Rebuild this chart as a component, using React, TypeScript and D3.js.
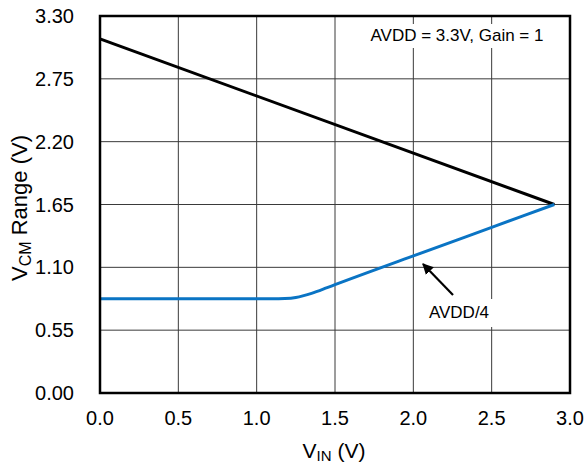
import React from "react";
import * as d3 from "d3";

const xTicks = [0, 0.5, 1.0, 1.5, 2.0, 2.5, 3.0];
const yTicks = [0, 0.55, 1.1, 1.65, 2.2, 2.75, 3.3];
const upperVin = [0, 2.9];
const upperVcm = [3.1, 1.65];
const lowerVin = [0, 0.5, 1.0, 1.1, 1.18, 1.25, 1.3, 1.35, 1.45, 1.5, 2.0, 2.5, 2.9];
const lowerVcm = [0.825, 0.825, 0.825, 0.825, 0.827, 0.836, 0.852, 0.872, 0.922, 0.948, 1.2, 1.45, 1.65];

const W = 586, H = 466;
const L = 100, R = 570, T = 16, B = 393;

export default function App() {
  const x = d3.scaleLinear().domain([0, 3]).range([L, R]);
  const y = d3.scaleLinear().domain([0, 3.3]).range([B, T]);
  const line = d3.line<[number, number]>().x(d => x(d[0])).y(d => y(d[1]));
  const smooth = d3.line<[number, number]>().x(d => x(d[0])).y(d => y(d[1])).curve(d3.curveMonotoneX);
  const up = upperVin.map((v, i) => [v, upperVcm[i]] as [number, number]);
  const low = lowerVin.map((v, i) => [v, lowerVcm[i]] as [number, number]);
  const font = "'Liberation Sans', Arial, sans-serif";
  return (
    <svg width={W} height={H} style={{ position: "absolute", left: 0, top: 0, background: "#fff" }} fontFamily={font}>
      <rect x={0} y={0} width={W} height={H} fill="#fff" />
      {xTicks.slice(1, -1).map(t => (
        <line key={"gx" + t} x1={x(t)} x2={x(t)} y1={T} y2={B} stroke="#3a3a3a" strokeWidth={1} />
      ))}
      {yTicks.slice(1, -1).map(t => (
        <line key={"gy" + t} x1={L} x2={R} y1={y(t)} y2={y(t)} stroke="#3a3a3a" strokeWidth={1} />
      ))}
      <rect x={364} y={24} width={192} height={24} fill="#fff" />
      <text x={457} y={41} fontSize={17} textAnchor="middle" fill="#000">AVDD = 3.3V, Gain = 1</text>
      <rect x={422} y={299} width={74} height={28} fill="#fff" />
      <text x={459} y={318} fontSize={17} textAnchor="middle" fill="#000">AVDD/4</text>
      <path d={line(up) || ""} fill="none" stroke="#000" strokeWidth={3} />
      <path d={smooth(low) || ""} fill="none" stroke="#0a74c4" strokeWidth={3} />
      <defs>
        <marker id="ah" viewBox="0 0 10 10" refX={9} refY={5} markerWidth={5} markerHeight={5} orient="auto">
          <path d="M0,0 L10,5 L0,10 z" fill="#000" />
        </marker>
      </defs>
      <line x1={453} y1={295} x2={423} y2={264} stroke="#000" strokeWidth={2.2} markerEnd="url(#ah)" />
      <rect x={L} y={T} width={R - L} height={B - T} fill="none" stroke="#000" strokeWidth={2.5} />
      {yTicks.map(t => (
        <text key={"yl" + t} x={74} y={y(t) + 7} fontSize={20} textAnchor="end" fill="#000">{t.toFixed(2)}</text>
      ))}
      {xTicks.map(t => (
        <text key={"xl" + t} x={x(t)} y={425} fontSize={20} textAnchor="middle" fill="#000">{t.toFixed(1)}</text>
      ))}
      <text x={334} y={458} fontSize={21} textAnchor="middle" fill="#000">
        V<tspan fontSize={15} dy={3}>IN</tspan><tspan dy={-3}> (V)</tspan>
      </text>
      <text transform={`translate(27,208) rotate(-90)`} fontSize={22} textAnchor="middle" fill="#000">
        V<tspan fontSize={16} dy={4}>CM</tspan><tspan dy={-4}> Range (V)</tspan>
      </text>
    </svg>
  );
}
